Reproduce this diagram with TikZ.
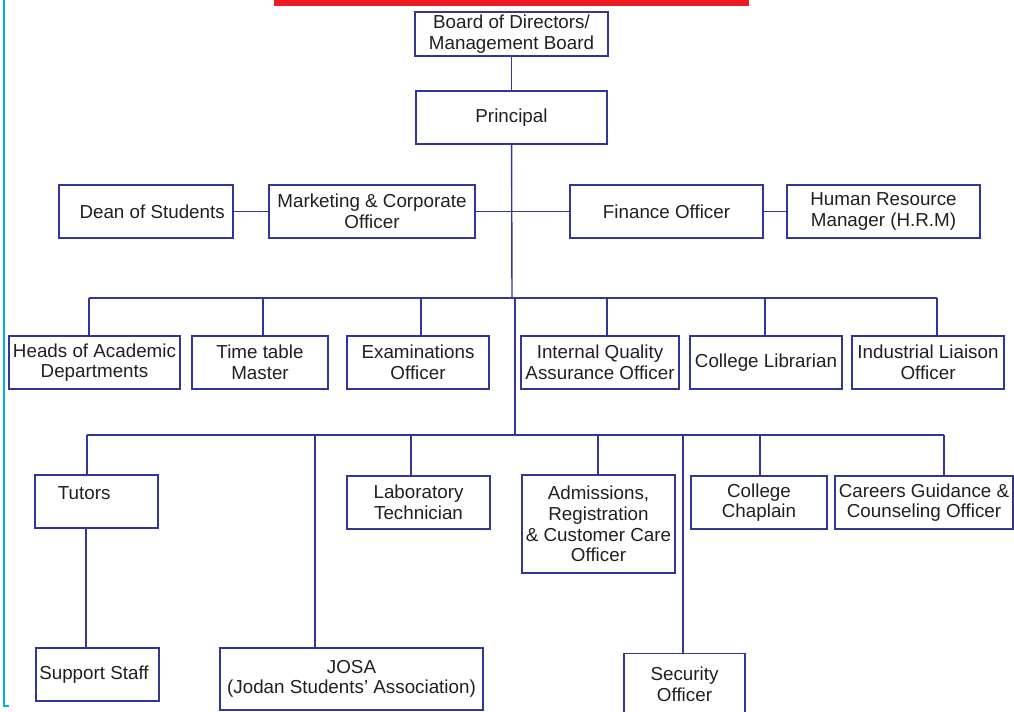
\documentclass[tikz,border=0pt]{standalone}
\usepackage{fontspec}
\setmainfont{Liberation Sans}
\usetikzlibrary{shapes}
\definecolor{boxblue}{RGB}{52,54,150}
\definecolor{txtgray}{RGB}{35,31,32}
\definecolor{barred}{RGB}{237,28,36}
\definecolor{edgecyan}{RGB}{0,174,239}
\tikzstyle{r} = [rectangle, minimum height=1.06cm, inner sep=0pt, align=center, text=txtgray, font=\fontsize{10.7}{11.8}\selectfont, draw=boxblue, line width=0.8pt]
\tikzstyle{l} = [draw=boxblue, line width=0.8pt]

\begin{document}
\begin{tikzpicture}[x=0.02cm,y=-0.02cm]
		\clip (0,0) rectangle (1014,711);
		\fill[white] (0,0) rectangle (1014,711);
		\fill[barred] (274,0) rectangle (749,6);
		\draw[edgecyan, line width=1.3pt] (4,0) -- (4,706) -- (9,706);
		
		\node[r,minimum width=3.86cm,minimum height=0.88cm](board) at (511.5,34){Board of Directors/\\Management Board};
		\node[r,minimum width=3.82cm](prin) at (511.5,117.5){Principal};
		\node[r,minimum width=3.48cm](dean) at (146,211.5){\hspace{7pt}Dean of Students};
		\node[r,minimum width=4.12cm](mkt) at (372,211.5){Marketing \& Corporate\\Officer};
		\node[r,minimum width=3.86cm](fin) at (666.5,211.5){Finance Officer};
		\node[r,minimum width=3.86cm](hrm) at (883.5,211.5){Human Resource\\Manager (H.R.M)};
		
		\node[r,minimum width=3.42cm](heads) at (94.5,362.5){Heads of Academic\\Departments};
		\node[r,minimum width=2.72cm](time) at (260,362.5){Time table\\Master};
		\node[r,minimum width=2.84cm](exam) at (418,362.5){Examinations\\Officer};
		\node[r,minimum width=3.16cm](iqa) at (600,362.5){Internal Quality\\Assurance Officer};
		\node[r,minimum width=3.04cm](lib) at (766,362.5){College Librarian};
		\node[r,minimum width=3.04cm](ind) at (928,362.5){Industrial Liaison\\Officer};
		
		\node[r,minimum width=2.46cm](tut) at (96.5,501.5){Tutors\kern14pt\\[-2pt]};
		\node[r,minimum width=2.86cm](lab) at (418.5,502.5){Laboratory\\Technician};
		\node[r,minimum width=3.06cm,minimum height=1.96cm](adm) at (598.5,524){Admissions,\\Registration\\\& Customer Care\\Officer};
		\node[r,minimum width=2.72cm](chap) at (759,502.5){College\\Chaplain};
		\node[r,minimum width=3.56cm](car) at (924,502.5){Careers Guidance \&\\Counseling Officer};
		
		\node[r,minimum width=2.46cm](sup) at (97.5,674.5){Support Staff\kern4pt};
		\node[r,minimum width=5.26cm,minimum height=1.24cm](josa) at (351.5,679){JOSA\\(Jodan Students' Association)};
		\node[r,minimum width=2.42cm,minimum height=1.22cm,anchor=north](sec) at (684.5,653){Security\\Officer};
		
		\coordinate (t1) at (512,298);
		\coordinate (t2) at (515,298);
		\coordinate (t3) at (515,435);
		\coordinate (ts) at (86,0);
		
		\draw[l] (board)--(prin);
		\draw[l] (prin)--(t1);
		\draw[l] (dean)--(mkt)--(fin)--(hrm);
		\draw[l] (89,298)--(937,298);
		\draw[l] (t2)--(t3);
		\draw[l] (87,435)--(944,435);
		\foreach \x/\n in {89/heads,263/time,421/exam,607/iqa,765/lib,937/ind}
			\draw[l] (\x,298)--(\n.north -| \x,0);
		\foreach \x/\n in {87/tut,315/josa,411/lab,598/adm,683/sec,760/chap,944/car}
			\draw[l] (\x,435)--(\n.north -| \x,0);
		\draw[l] (tut.south -| ts)--(sup.north -| ts);
		\end{tikzpicture}
\end{document}
